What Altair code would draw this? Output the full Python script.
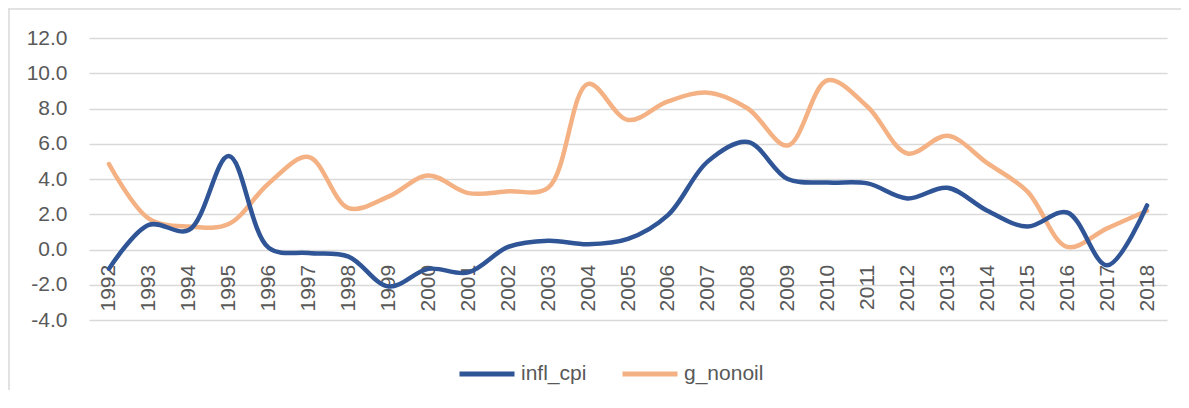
import altair as alt
import pandas as pd

years = [str(y) for y in range(1992, 2019)]
infl_cpi = [-1.1, 1.4, 1.1, 5.3, 0.1, -0.2, -0.4, -2.1, -1.1, -1.3, 0.15, 0.5, 0.3,
            0.6, 1.95, 5.0, 6.1, 4.0, 3.8, 3.75, 2.9, 3.5, 2.2, 1.3, 2.1, -0.9, 2.5]
g_nonoil = [4.85, 1.75, 1.3, 1.45, 3.75, 5.25, 2.35, 3.0, 4.2, 3.2, 3.3, 3.5, 9.4,
            7.35, 8.4, 8.9, 8.0, 5.9, 9.6, 8.1, 5.45, 6.45, 4.9, 3.3, 0.15, 1.2, 2.2]
series_names = ["infl_cpi", "g_nonoil"]
series_colors = ["#2F5597", "#F4B183"]
y_ticks = [-4, -2, 0, 2, 4, 6, 8, 10, 12]

rows = []
for name, vals in (("g_nonoil", g_nonoil), ("infl_cpi", infl_cpi)):
    for yr, v in zip(years, vals):
        rows.append({"year": yr, "value": v, "series": name})
df = pd.DataFrame(rows)

W, H = 1078, 282
FONT = "Liberation Sans"

lines = alt.Chart(df).mark_line(
    interpolate="catmull-rom", strokeWidth=4.5, strokeCap="round"
).encode(
    x=alt.X("year:O", sort=years, title=None,
            scale=alt.Scale(type="point", padding=0.5),
            axis=alt.Axis(offset=-70.7, labelAngle=270, labelAlign="right",
                          labelBaseline="middle", labelPadding=15, ticks=False,
                          tickSize=0, domain=False, grid=False, labelOverlap=False,
                          labelColor="#595959", labelFontSize=21, labelFont=FONT)),
    y=alt.Y("value:Q", title=None,
            scale=alt.Scale(domain=[-4, 12], nice=False, zero=False),
            axis=alt.Axis(values=y_ticks, domain=False, ticks=False,
                          labelExpr="(datum.value < 0 ? '-' : '') + format(abs(datum.value), '.1f')",
                          labelPadding=22, gridColor="#d9d9d9", gridWidth=1.5,
                          labelColor="#595959", labelFontSize=21, labelFont=FONT)),
    color=alt.Color("series:N", title=None,
                    scale=alt.Scale(domain=series_names, range=series_colors),
                    legend=alt.Legend(orient="none", legendX=368, legendY=306,
                                      direction="horizontal", symbolType="stroke",
                                      symbolSize=3025, symbolStrokeWidth=5,
                                      labelOffset=4, columnPadding=25, padding=0,
                                      labelFontSize=21, labelFont=FONT,
                                      labelColor="#595959")),
)

border_top = alt.Chart(pd.DataFrame({"a": [0]})).mark_rule(
    color="#d9d9d9", strokeWidth=1.5
).encode(x=alt.value(-81), x2=alt.value(W + 14), y=alt.value(-29))
border_left = alt.Chart(pd.DataFrame({"a": [0]})).mark_rule(
    color="#d9d9d9", strokeWidth=1.5
).encode(x=alt.value(-80), y=alt.value(-29), y2=alt.value(H + 70))

chart = alt.layer(border_top, border_left, lines).properties(
    width=W, height=H,
    background="white",
    autosize=alt.AutoSizeParams(type="none"),
    padding={"left": 81, "top": 30, "right": 14, "bottom": 70},
).configure_view(stroke=None)

chart.save("out.html", embed_options={"renderer": "svg", "actions": False})
